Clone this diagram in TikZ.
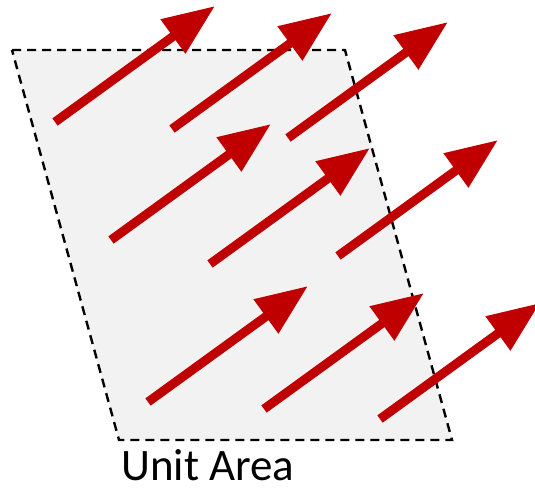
\documentclass[tikz,border=0pt]{standalone}
\usepackage{fontspec}
\setmainfont{Carlito}
\usetikzlibrary{arrows.meta}
\definecolor{fluxred}{HTML}{C00000}
\definecolor{areagray}{HTML}{F2F2F2}
\tikzstyle{flux}=[
    draw=fluxred,line width=9pt,
    -{Triangle[length=52pt,width=40pt,fill=fluxred]}
    ]
\tikzstyle{unitarea}=[
    fill=areagray,draw=black,line width=2.4pt,dash pattern=on 9pt off 6pt
    ]
\begin{document}
\begin{tikzpicture}[x=1pt,y=-1pt]
\useasboundingbox (0,0) rectangle (535,487);
%unit area
\draw[unitarea] (12,50) -- (345,50) -- (452,440) -- (119,440) -- cycle;
%flux arrows
\foreach \n/\sx/\sy in {1/55/122,2/172/129,3/288/138,4/111/240,5/210/264,6/338/256,7/148/402,8/264/409,9/380/419}{
  \coordinate (s\n) at (\sx,\sy);
  \draw[flux] (s\n) -- ++(160,-116);
}
%label
\node[anchor=base west,inner sep=0pt,text depth=0pt,font=\fontsize{45}{50}\selectfont] (label) at (121,480) {Unit Area};
\end{tikzpicture}
\end{document}
